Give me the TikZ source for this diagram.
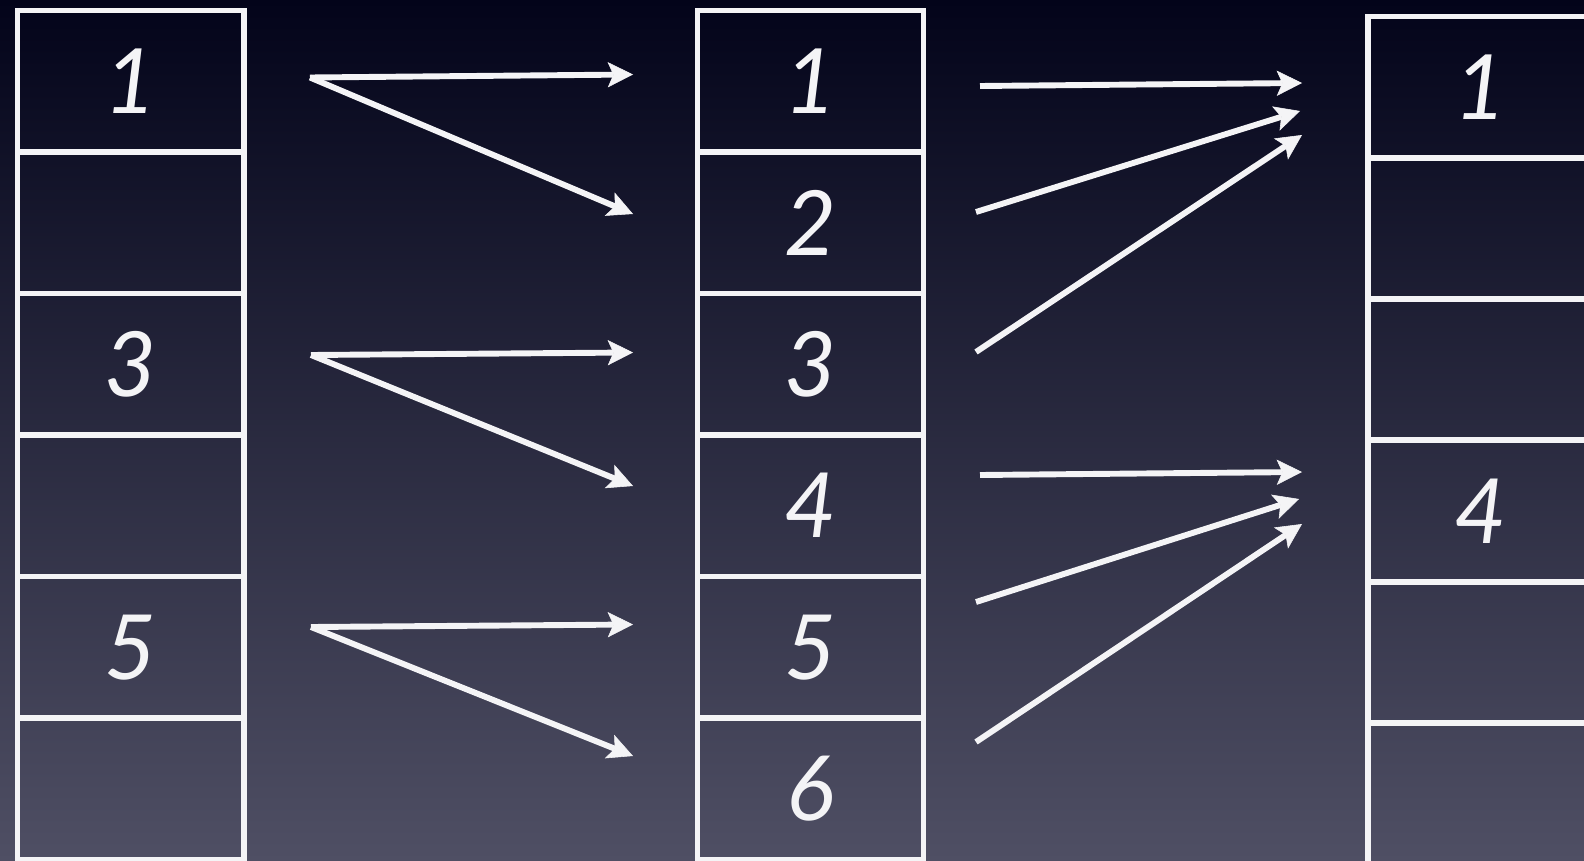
\documentclass[tikz,border=0pt]{standalone}
\usepackage{fontspec}
\setmainfont{Lato}
\usetikzlibrary{arrows.meta}
\definecolor{bgtop}{HTML}{03041A}
\definecolor{bgmid}{HTML}{262840}
\definecolor{bgbottom}{HTML}{4F4F64}
\definecolor{chalk}{HTML}{F4F4F6}

\begin{document}
\begin{tikzpicture}[
  x=0.025cm, y=-0.025cm,
  cell/.style={draw=chalk, line width=3.9pt, minimum width=5.66cm, minimum height=3.54cm, inner sep=0pt, text=chalk, font=\fontsize{64}{70}\selectfont\itshape},
  arr/.style={-{Stealth[length=18pt, width=18pt, inset=4pt, line width=0.4pt, fill=chalk]}, line width=4.2pt, color=chalk},
]
  \clip (0,0) rectangle (1584,861);
  \shade[top color=bgtop, middle color=bgmid, bottom color=bgbottom] (0,0) rectangle (1584,861);
  % three columns of cells
  \foreach \t [count=\i] in {1,{},3,{},5,{}}
    \node[cell] (L\i) at (130.75, {10.5+141.5*(\i-0.5)}) {\t};
  \foreach \t [count=\i] in {1,2,3,4,5,6}
    \node[cell] (M\i) at (810.5, {10.5+141.5*(\i-0.5)}) {\t};
  \foreach \t [count=\i] in {1,{},{},4,{},{}}
    \node[cell] (R\i) at (1481, {16.5+141.3*(\i-0.5)}) {\t};
  % left -> middle
  \coordinate (src1) at (310,77.5);
  \coordinate (src3) at (311,355);
  \coordinate (src5) at (311,627);
  \coordinate (dst1) at (633,74.5);
  \coordinate (dst2) at (633,214);
  \coordinate (dst3) at (633,352.5);
  \coordinate (dst4) at (633,486);
  \coordinate (dst5) at (633,624.5);
  \coordinate (dst6) at (633,756);
  \draw[arr] (src1) -- (dst1);
  \draw[arr] (src1) -- (dst2);
  \draw[arr] (src3) -- (dst3);
  \draw[arr] (src3) -- (dst4);
  \draw[arr] (src5) -- (dst5);
  \draw[arr] (src5) -- (dst6);
  % middle -> right
  \coordinate (from1) at (980,86);
  \coordinate (from2) at (976,212);
  \coordinate (from3) at (976,352);
  \coordinate (from4) at (980,475);
  \coordinate (from5) at (976,602);
  \coordinate (from6) at (976,742);
  \coordinate (to1a) at (1302,83);
  \coordinate (to1b) at (1300,111);
  \coordinate (to1c) at (1302,135);
  \coordinate (to4a) at (1302,472);
  \coordinate (to4b) at (1299,499);
  \coordinate (to4c) at (1302,524);
  \draw[arr] (from1) -- (to1a);
  \draw[arr] (from2) -- (to1b);
  \draw[arr] (from3) -- (to1c);
  \draw[arr] (from4) -- (to4a);
  \draw[arr] (from5) -- (to4b);
  \draw[arr] (from6) -- (to4c);
\end{tikzpicture}
\end{document}
